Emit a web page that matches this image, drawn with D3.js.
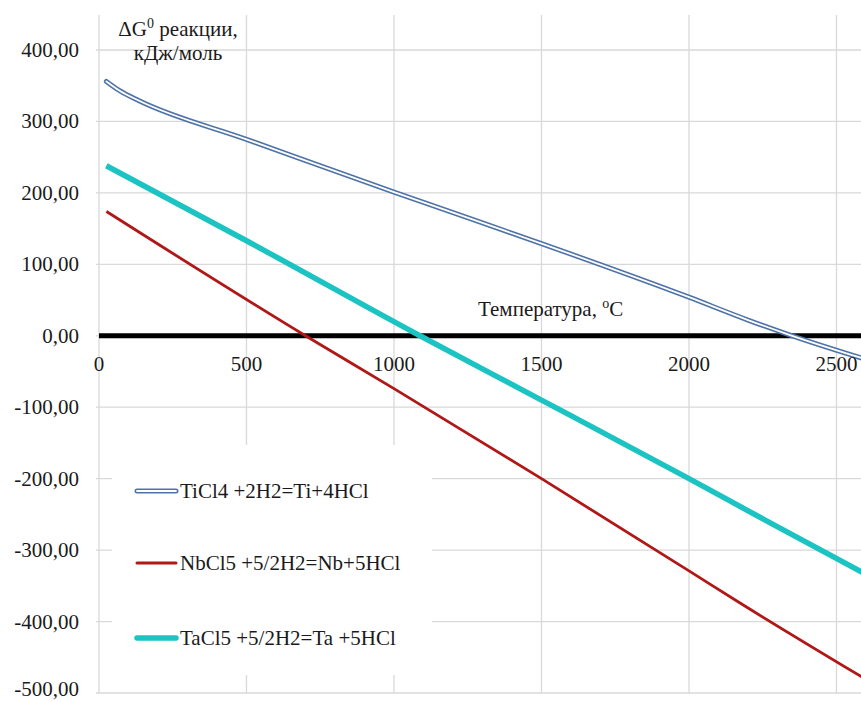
<!DOCTYPE html>
<html><head><meta charset="utf-8">
<script src="https://cdn.jsdelivr.net/npm/d3@7"></script>
</head><body style="margin:0"><svg id="c" width="861" height="702"></svg>
<script>
// Data
const seriesNames = ["TiCl4 +2H2=Ti+4HCl", "NbCl5 +5/2H2=Nb+5HCl", "TaCl5 +5/2H2=Ta +5HCl"];
const tiT = [25, 70, 136, 500, 1000, 1300, 1500, 2000, 2200, 2350, 2600];
const tiG = [356, 343, 329, 275, 201, 158, 129, 54, 22, 0, -33];
const nbT = [25, 700, 1000, 1500, 2000, 2173, 2600];
const nbG = [174, 0, -74, -200, -329, -374, -481];
const taT = [25, 500, 1088, 1500, 2000, 2258, 2600];
const taG = [238, 133, 0, -90, -200, -258, -334];
const xTicks = [0, 500, 1000, 1500, 2000, 2500];
const yTicks = [400, 300, 200, 100, 0, -100, -200, -300, -400, -500];

const svg = d3.select("#c");
const x = d3.scaleLinear().domain([0, 2500]).range([99, 836.5]);
const y = d3.scaleLinear().domain([-500, 400]).range([693, 50]);
const fmt = v => d3.format(".2f")(v).replace(".", ",").replace("−", "-");
const ink = "#1a1a1a";

svg.append("clipPath").attr("id", "plotclip").append("rect")
  .attr("x", 99).attr("y", 40).attr("width", 762).attr("height", 660);

// grid
const g = svg.append("g");
g.selectAll(".hg").data(yTicks).join("line")
  .attr("x1", 96).attr("x2", 861).attr("y1", d => y(d)).attr("y2", d => y(d))
  .attr("stroke", "#d9d9d9").attr("stroke-width", 1.3);
g.selectAll(".vg").data(xTicks).join("line")
  .attr("x1", d => x(d)).attr("x2", d => x(d)).attr("y1", 15).attr("y2", 693)
  .attr("stroke", "#d9d9d9").attr("stroke-width", 1.3);

// zero axis line
svg.append("line").attr("x1", x(0)).attr("x2", 861).attr("y1", y(0)).attr("y2", y(0))
  .attr("stroke", "#000").attr("stroke-width", 5);

const line = d3.line().x(d => x(d[0])).y(d => y(d[1])).curve(d3.curveMonotoneX);
const plot = svg.append("g").attr("clip-path", "url(#plotclip)");
const ti = d3.zip(tiT, tiG), nb = d3.zip(nbT, nbG), ta = d3.zip(taT, taG);
plot.append("path").datum(ti).attr("d", line).attr("fill", "none")
  .attr("stroke", "#4f73a8").attr("stroke-width", 5).attr("stroke-linejoin", "round").attr("stroke-linecap", "round");
plot.append("path").datum(ti).attr("d", line).attr("fill", "none")
  .attr("stroke", "#fff").attr("stroke-width", 1.8).attr("stroke-linejoin", "round").attr("stroke-linecap", "round");
plot.append("path").datum(nb).attr("d", line).attr("fill", "none")
  .attr("stroke", "#b01818").attr("stroke-width", 2.8).attr("stroke-linejoin", "round");
plot.append("path").datum(ta).attr("d", line).attr("fill", "none")
  .attr("stroke", "#1cc3c3").attr("stroke-width", 5.5).attr("stroke-linejoin", "round");

// legend box and samples
const lg = svg.append("g");
lg.append("rect").attr("x", 112).attr("y", 445).attr("width", 320).attr("height", 230).attr("fill", "#fff");
const rows = [491, 563, 638];
const styles = [
  {c: "#4f73a8", w: 5, inner: true},
  {c: "#b01818", w: 3, inner: false},
  {c: "#1cc3c3", w: 5.5, inner: false}
];
seriesNames.forEach((n, i) => {
  lg.append("line").attr("x1", 137).attr("x2", 176).attr("y1", rows[i]).attr("y2", rows[i])
    .attr("stroke", styles[i].c).attr("stroke-width", styles[i].w).attr("stroke-linecap", "round");
  if (styles[i].inner) lg.append("line").attr("x1", 137).attr("x2", 176).attr("y1", rows[i]).attr("y2", rows[i])
    .attr("stroke", "#fff").attr("stroke-width", 1.8).attr("stroke-linecap", "round");
});

// all texts
function addText(px, py, anchor, str) {
  return svg.append("text").attr("x", px).attr("y", py)
    .style("font-family", '"Liberation Serif"').attr("font-size", 21)
    .attr("text-anchor", anchor).attr("fill", ink).text(str);
}
yTicks.forEach(d => addText(79, Math.min(y(d) + 7, 696), "end", fmt(d)));
xTicks.forEach(d => addText(x(d), y(0) + 35, "middle", String(d)));
seriesNames.forEach((n, i) => addText(180, rows[i] + 7, "start", n));

const t1 = addText(178, 36, "middle", null);
t1.append("tspan").text("ΔG");
t1.append("tspan").attr("font-size", 14).attr("dy", -8).text("0");
t1.append("tspan").attr("dy", 8).text(" реакции,");
addText(178, 60, "middle", "кДж/моль");

const t2 = addText(478, 316, "start", null);
t2.append("tspan").text("Температура, ");
t2.append("tspan").attr("font-size", 14).attr("dy", -8).text("o");
t2.append("tspan").attr("dy", 8).text("C");
</script></body></html>
